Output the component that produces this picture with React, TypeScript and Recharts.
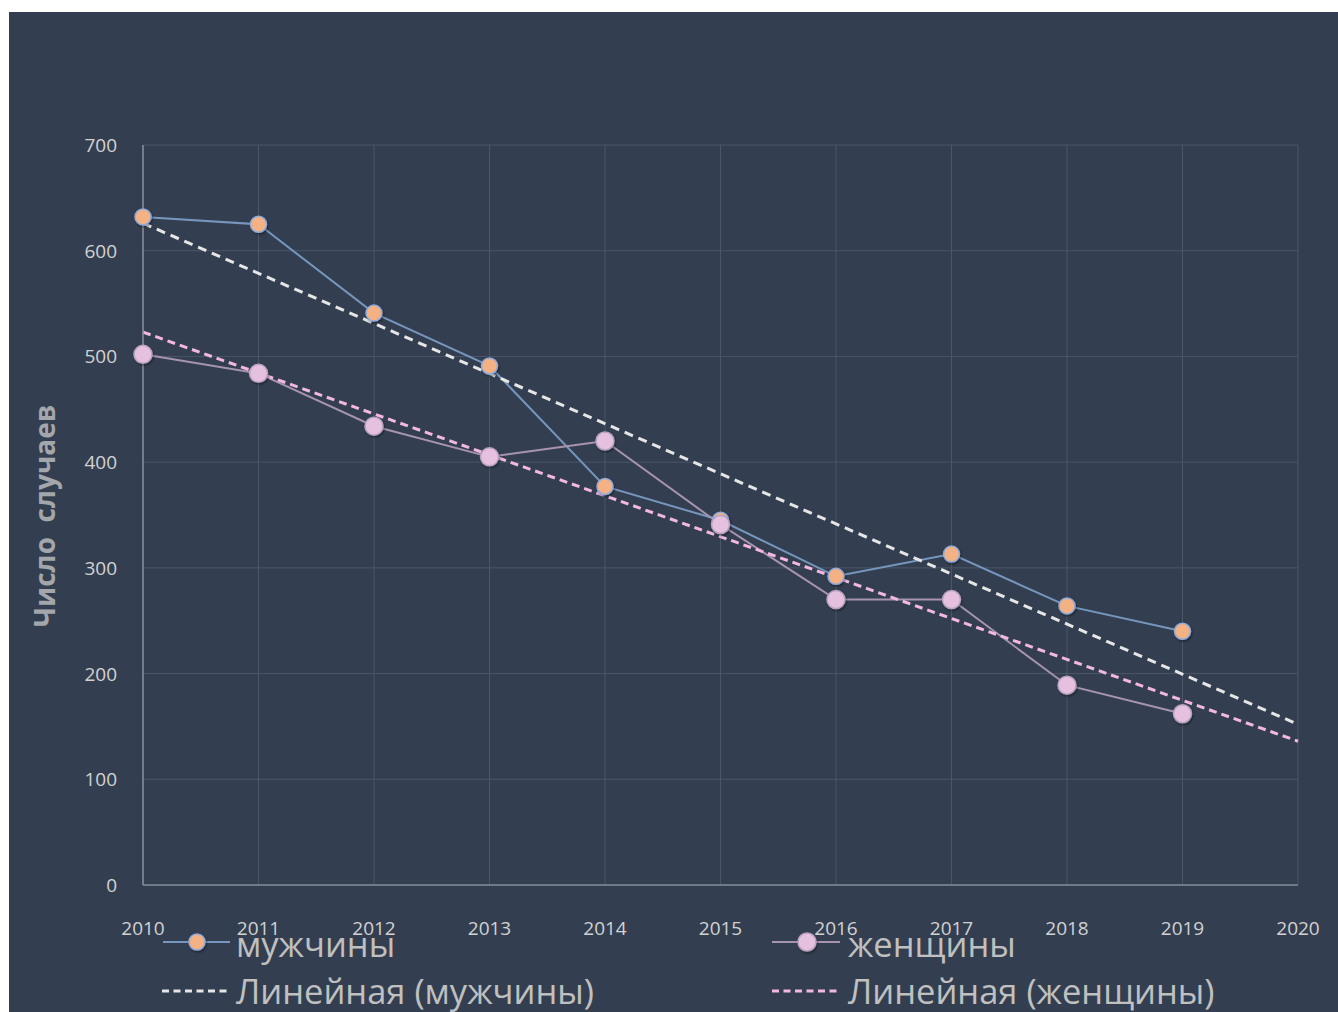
import React from 'react';
import { LineChart, Line, XAxis, YAxis, CartesianGrid } from 'recharts';

const years = [2010, 2011, 2012, 2013, 2014, 2015, 2016, 2017, 2018, 2019];
const maleValues = [632, 625, 541, 491, 377, 345, 292, 313, 264, 240];
const femaleValues = [502, 484, 434, 405, 420, 341, 270, 270, 189, 162];
const trendYears = [2010, 2020];
const maleTrendValues = [626, 152];
const femaleTrendValues = [523, 136];
const xTicks = [2010, 2011, 2012, 2013, 2014, 2015, 2016, 2017, 2018, 2019, 2020];
const yTicks = [0, 100, 200, 300, 400, 500, 600, 700];

const labels = {
  male: 'мужчины',
  female: 'женщины',
  maleTrend: 'Линейная (мужчины)',
  femaleTrend: 'Линейная (женщины)',
  yAxis: 'Число  случаев',
};

const maleData = years.map((year, i) => ({ year, v: maleValues[i] }));
const femaleData = years.map((year, i) => ({ year, v: femaleValues[i] }));
const maleTrendData = trendYears.map((year, i) => ({ year, v: maleTrendValues[i] }));
const femaleTrendData = trendYears.map((year, i) => ({ year, v: femaleTrendValues[i] }));

const BG = '#333F50';
const FONT = '"Open Sans", "Noto Sans", sans-serif';
const MALE_LINE = '#7696BE';
const MALE_FILL = '#F4B183';
const MALE_STROKE = '#8FAADC';
const FEMALE_LINE = '#A894B0';
const FEMALE_FILL = '#E6C0DF';
const FEMALE_STROKE = '#B7A2C0';
const MALE_TREND = '#E6E6E6';
const FEMALE_TREND = '#F2B8E2';
const TICK_COLOR = '#D2D2D2';
const LEGEND_COLOR = '#C0C0C0';
const LEGEND_SIZE = 34.5;

const XTick = (props: any) => {
  const { x, y, payload } = props;
  return (
    <text x={x} y={y + 50} textAnchor="middle" fill={TICK_COLOR} fontSize={19} fontFamily={FONT}>
      {payload.value}
    </text>
  );
};

const YTick = (props: any) => {
  const { x, y, payload } = props;
  return (
    <text x={x - 26} y={y + 7} textAnchor="end" fill={TICK_COLOR} fontSize={19} fontFamily={FONT}>
      {payload.value}
    </text>
  );
};

const makeDot = (fill: string, stroke: string, r: number) => (props: any) => {
  const { cx, cy, index } = props;
  if (cx == null || cy == null) return <g key={index} />;
  return (
    <circle
      key={index}
      cx={cx}
      cy={cy}
      r={r}
      fill={fill}
      stroke={stroke}
      strokeWidth={1.5}
      filter="url(#dotShadow)"
    />
  );
};

const YLabel = () => (
  <text
    transform="translate(35,504) rotate(-90)"
    textAnchor="middle"
    dominantBaseline="central"
    fill="#A3A6AB"
    fontSize={28}
    fontWeight={700}
    fontFamily={FONT}
    style={{ whiteSpace: 'pre' }}
  >
    {labels.yAxis}
  </text>
);

const LegendOverlay = () => (
  <svg
    width={1338}
    height={1012}
    style={{ position: 'absolute', left: 0, top: 0, pointerEvents: 'none' }}
  >
    <defs>
      <filter id="legShadow" x="-50%" y="-50%" width="200%" height="200%">
        <feDropShadow dx="1" dy="1.5" stdDeviation="1.2" floodColor="#000" floodOpacity="0.45" />
      </filter>
    </defs>
    <line x1={163} y1={942} x2={230} y2={942} stroke={MALE_LINE} strokeWidth={2} />
    <circle cx={197} cy={942} r={8} fill={MALE_FILL} stroke={MALE_STROKE} strokeWidth={1.5} filter="url(#legShadow)" />
    <text x={236} y={957} fill={LEGEND_COLOR} fontSize={LEGEND_SIZE} fontFamily={FONT}>{labels.male}</text>

    <line x1={772} y1={942} x2={840} y2={942} stroke={FEMALE_LINE} strokeWidth={2} />
    <circle cx={807} cy={942} r={9} fill={FEMALE_FILL} stroke={FEMALE_STROKE} strokeWidth={1.5} filter="url(#legShadow)" />
    <text x={848} y={957} fill={LEGEND_COLOR} fontSize={LEGEND_SIZE} fontFamily={FONT}>{labels.female}</text>

    <line x1={162} y1={991} x2={230} y2={991} stroke={MALE_TREND} strokeWidth={3} strokeDasharray="7 4.5" />
    <text x={236} y={1004} fill={LEGEND_COLOR} fontSize={LEGEND_SIZE} fontFamily={FONT}>{labels.maleTrend}</text>

    <line x1={772} y1={991} x2={840} y2={991} stroke={FEMALE_TREND} strokeWidth={3} strokeDasharray="7 4.5" />
    <text x={848} y={1004} fill={LEGEND_COLOR} fontSize={LEGEND_SIZE} fontFamily={FONT}>{labels.femaleTrend}</text>
  </svg>
);

export default function App() {
  return (
    <div style={{ position: 'absolute', left: 0, top: 0, width: 1338, height: 1012, overflow: 'hidden' }}>
      <div style={{ position: 'absolute', left: 9, top: 12, width: 1329, height: 1000, background: BG }}>
        <LineChart
          width={1329}
          height={1000}
          margin={{ top: 133, right: 40, left: 0, bottom: 87 }}
        >
          <defs>
            <filter id="dotShadow" x="-50%" y="-50%" width="200%" height="200%">
              <feDropShadow dx="1" dy="1.5" stdDeviation="1.2" floodColor="#000" floodOpacity="0.45" />
            </filter>
          </defs>
          <CartesianGrid stroke="#4B5668" strokeWidth={1} />
          <XAxis
            type="number"
            dataKey="year"
            domain={[2010, 2020]}
            ticks={xTicks}
            interval={0}
            height={40}
            tickLine={false}
            tickSize={0}
            tickMargin={0}
            axisLine={{ stroke: '#838A95', strokeWidth: 1.5 }}
            tick={<XTick />}
            allowDecimals={false}
          />
          <YAxis
            type="number"
            domain={[0, 700]}
            ticks={yTicks}
            interval={0}
            width={134}
            tickLine={false}
            tickSize={0}
            tickMargin={0}
            axisLine={{ stroke: '#8A8F98', strokeWidth: 1.5 }}
            tick={<YTick />}
            label={{ content: () => <YLabel /> }}
          />
          <Line
            data={maleData}
            dataKey="v"
            type="linear"
            stroke={MALE_LINE}
            strokeWidth={2}
            dot={makeDot(MALE_FILL, MALE_STROKE, 8)}
            activeDot={false}
            isAnimationActive={false}
          />
          <Line
            data={femaleData}
            dataKey="v"
            type="linear"
            stroke={FEMALE_LINE}
            strokeWidth={2}
            dot={makeDot(FEMALE_FILL, FEMALE_STROKE, 9)}
            activeDot={false}
            isAnimationActive={false}
          />
          <Line
            data={maleTrendData}
            dataKey="v"
            type="linear"
            stroke={MALE_TREND}
            strokeWidth={3}
            strokeDasharray="9 6"
            dot={false}
            activeDot={false}
            isAnimationActive={false}
          />
          <Line
            data={femaleTrendData}
            dataKey="v"
            type="linear"
            stroke={FEMALE_TREND}
            strokeWidth={3}
            strokeDasharray="8 5"
            dot={false}
            activeDot={false}
            isAnimationActive={false}
          />
        </LineChart>
      </div>
      <LegendOverlay />
    </div>
  );
}
